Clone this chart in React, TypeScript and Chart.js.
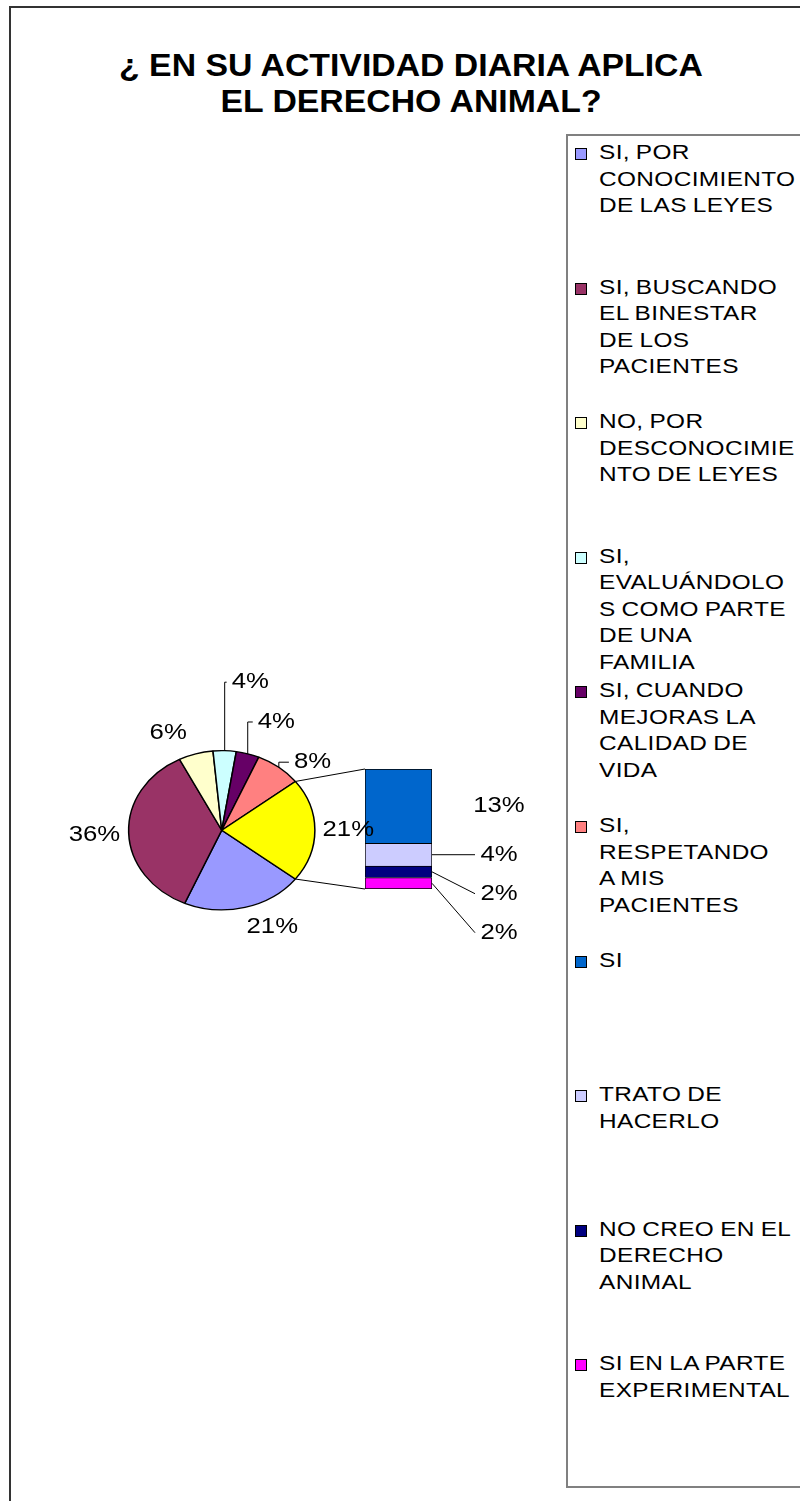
import React, { useEffect, useRef } from 'react';
import { Chart, registerables } from 'chart.js';

Chart.register(...registerables);

// ---------- DATA ----------
const TITLE_LINES = ['¿ EN SU ACTIVIDAD DIARIA APLICA', 'EL DERECHO ANIMAL?'];

const pieLabels = [
  'SI, POR CONOCIMIENTO DE LAS LEYES',
  'SI, BUSCANDO EL BINESTAR DE LOS PACIENTES',
  'NO, POR DESCONOCIMIENTO DE LEYES',
  'SI, EVALUÁNDOLOS COMO PARTE DE UNA FAMILIA',
  'SI, CUANDO MEJORAS LA CALIDAD DE VIDA',
  'SI, RESPETANDO A MIS PACIENTES',
];
const pieValues = [21, 36, 6, 4, 4, 8];
const pieColors = ['#9999FF', '#993366', '#FFFFCC', '#CCFFFF', '#660066', '#FF8080'];
const otherColor = '#FFFF00';

const barLabels = ['SI', 'TRATO DE HACERLO', 'NO CREO EN EL DERECHO ANIMAL', 'SI EN LA PARTE EXPERIMENTAL'];
const barValues = [13, 4, 2, 2];
const barColors = ['#0066CC', '#CCCCFF', '#000080', '#FF00FF'];

// legend text as wrapped in the original
const legendLines = [
  ['SI, POR', 'CONOCIMIENTO', 'DE LAS LEYES'],
  ['SI, BUSCANDO', 'EL BINESTAR', 'DE LOS', 'PACIENTES'],
  ['NO, POR', 'DESCONOCIMIE', 'NTO DE LEYES'],
  ['SI,', 'EVALUÁNDOLO', 'S COMO PARTE', 'DE UNA', 'FAMILIA'],
  ['SI, CUANDO', 'MEJORAS LA', 'CALIDAD DE', 'VIDA'],
  ['SI,', 'RESPETANDO', 'A MIS', 'PACIENTES'],
  ['SI'],
  ['TRATO DE', 'HACERLO'],
  ['NO CREO EN EL', 'DERECHO', 'ANIMAL'],
  ['SI EN LA PARTE', 'EXPERIMENTAL'],
];

// ---------- LAYOUT ----------
const FONT = '"Liberation Sans", Arial, Helvetica, sans-serif';
const SX = 1.17; // horizontal stretch of the original picture
const CW = 560;
const CH = 1000;
const PIE = { left: 141.5, top: 750, size: 160.5 };
const BAR = { left: 365, right: 432, top: 769, bottom: 889 };
// label anchors relative to pie centre, in units of the pie radius
const PIE_LABEL_OFFSETS = [
  [0.635, 1.22],
  [-1.6, 0.057],
  [-0.673, -1.22],
  [0.358, -1.86],
  [0.686, -1.36],
  [1.14, -0.855],
  [1.59, 0],
];
const PIE_LEADERS = [false, false, false, true, true, true, false];

const sum = (a: number[]) => a.reduce((s, v) => s + v, 0);

function drawText(ctx: CanvasRenderingContext2D, text: string, x: number, y: number) {
  ctx.save();
  ctx.translate(x, y);
  ctx.scale(SX, 1);
  ctx.textAlign = 'center';
  ctx.textBaseline = 'middle';
  ctx.fillText(text, 0, 0);
  ctx.restore();
}

export default function App() {
  const pieRef = useRef<HTMLCanvasElement>(null);
  const barRef = useRef<HTMLCanvasElement>(null);

  useEffect(() => {
    const otherValue = sum(barValues);
    const pieData = [...pieValues, otherValue];
    const total = sum(pieData);
    const barTotal = sum(barValues);
    const rotation = 90 + (otherValue / total) * 180;

    const barDatasets = barValues
      .map((v, i) => ({
        label: barLabels[i],
        data: [v],
        backgroundColor: barColors[i],
        borderColor: '#000',
        borderWidth: { top: 1, left: 1, right: 1, bottom: i === barValues.length - 1 ? 1 : 0 },
        borderSkipped: false,
        barPercentage: 1,
        categoryPercentage: 1,
      }))
      .reverse();

    const barChart = new Chart(barRef.current!, {
      type: 'bar',
      data: { labels: [''], datasets: barDatasets as any },
      options: {
        responsive: false,
        animation: false,
        events: [],
        layout: { padding: { left: BAR.left, right: CW - BAR.right, top: BAR.top, bottom: CH - BAR.bottom } },
        scales: {
          x: { display: false, stacked: true },
          y: { display: false, stacked: true, min: 0, max: barTotal },
        },
        plugins: { legend: { display: false }, tooltip: { enabled: false } },
      },
    });

    const stretchPlugin = {
      id: 'stretch',
      beforeDatasetsDraw(chart: any) {
        const a = chart.getDatasetMeta(0).data[0];
        const ctx = chart.ctx;
        ctx.save();
        ctx.translate(a.x, a.y);
        ctx.scale(SX, 1);
        ctx.translate(-a.x, -a.y);
      },
      afterDatasetsDraw(chart: any) {
        chart.ctx.restore();
      },
    };

    const labelPlugin = {
      id: 'labels',
      afterDraw(chart: any) {
        const ctx: CanvasRenderingContext2D = chart.ctx;
        const arcs = chart.getDatasetMeta(0).data;
        const cx = arcs[0].x;
        const cy = arcs[0].y;
        const r = arcs[0].outerRadius;
        ctx.save();
        ctx.font = `22px ${FONT}`;
        ctx.fillStyle = '#000';
        ctx.strokeStyle = '#000';
        ctx.lineWidth = 1;

        // connector lines pie -> bar
        const other = arcs[arcs.length - 1];
        const bMeta = barChart.getDatasetMeta(barDatasets.length - 1).data[0] as any;
        const bBottom = barChart.getDatasetMeta(0).data[0] as any;
        const barLeft = bMeta.x - bMeta.width / 2;
        const barRight = bMeta.x + bMeta.width / 2;
        ctx.beginPath();
        ctx.moveTo(cx + SX * r * Math.cos(other.startAngle), cy + r * Math.sin(other.startAngle));
        ctx.lineTo(barLeft, bMeta.y);
        ctx.moveTo(cx + SX * r * Math.cos(other.endAngle), cy + r * Math.sin(other.endAngle));
        ctx.lineTo(barLeft, bBottom.base);
        ctx.stroke();

        // pie labels
        arcs.forEach((arc: any, i: number) => {
          const txt = Math.round((pieData[i] / total) * 100) + '%';
          const [ox, oy] = PIE_LABEL_OFFSETS[i];
          const lx = cx + ox * r;
          const ly = cy + oy * r;
          if (PIE_LEADERS[i]) {
            const mid = (arc.startAngle + arc.endAngle) / 2;
            const ex = cx + SX * r * Math.cos(mid);
            const ey = cy + r * Math.sin(mid);
            const w = ctx.measureText(txt).width * SX;
            ctx.beginPath();
            ctx.moveTo(ex, ey);
            ctx.lineTo(ex, ly);
            ctx.lineTo(lx - w / 2 - 5, ly);
            ctx.stroke();
          }
          drawText(ctx, txt, lx, ly);
        });

        // bar labels (top to bottom)
        let prevY = -Infinity;
        barValues.forEach((v, j) => {
          const el = barChart.getDatasetMeta(barDatasets.length - 1 - j).data[0] as any;
          const segC = (el.y + el.base) / 2;
          const ly = Math.max(segC, prevY + 39);
          prevY = ly;
          const lx = barRight + 67;
          const txt = Math.round((v / total) * 100) + '%';
          if (v / barTotal < 0.25) {
            ctx.beginPath();
            ctx.moveTo(barRight, segC);
            ctx.lineTo(lx - 24, ly);
            ctx.stroke();
          }
          drawText(ctx, txt, lx, ly);
        });
        ctx.restore();
      },
    };

    const pieChart = new Chart(pieRef.current!, {
      type: 'pie',
      data: {
        labels: [...pieLabels, 'Otro'],
        datasets: [
          {
            data: pieData,
            backgroundColor: [...pieColors, otherColor],
            borderColor: '#000',
            borderWidth: 1.3,
          },
        ],
      },
      options: {
        responsive: false,
        animation: false,
        events: [],
        rotation,
        layout: {
          padding: {
            left: PIE.left,
            right: CW - PIE.left - PIE.size,
            top: PIE.top,
            bottom: CH - PIE.top - PIE.size,
          },
        },
        plugins: { legend: { display: false }, tooltip: { enabled: false } },
      },
      plugins: [stretchPlugin, labelPlugin],
    });

    return () => {
      pieChart.destroy();
      barChart.destroy();
    };
  }, []);

  const legendColors = [...pieColors, ...barColors];

  return (
    <div
      style={{
        position: 'absolute',
        left: 0,
        top: 0,
        width: 800,
        height: 1501,
        overflow: 'hidden',
        background: '#fff',
        fontFamily: FONT,
        color: '#000',
      }}
    >
      <div
        style={{
          position: 'absolute',
          left: 9,
          top: 6,
          width: 900,
          height: 1700,
          border: '2px solid #333',
          boxSizing: 'border-box',
        }}
      />
      <div
        style={{
          position: 'absolute',
          left: 0,
          top: 48,
          width: 822,
          textAlign: 'center',
          fontWeight: 'bold',
          fontSize: 31,
          lineHeight: '36px',
          transform: `scaleX(1.09)`,
          transformOrigin: '411px 0',
          whiteSpace: 'pre',
        }}
      >
        {TITLE_LINES.join('\n')}
      </div>

      <canvas ref={barRef} width={CW} height={CH} style={{ position: 'absolute', left: 0, top: 0, width: CW, height: CH }} />
      <canvas ref={pieRef} width={CW} height={CH} style={{ position: 'absolute', left: 0, top: 0, width: CW, height: CH }} />

      <div
        style={{
          position: 'absolute',
          left: 566,
          top: 134,
          width: 300,
          height: 1354,
          border: '2px solid #808080',
          boxSizing: 'border-box',
        }}
      />
      {legendLines.map((lines, i) => {
        const top = 139 + i * 134.6;
        return (
          <React.Fragment key={i}>
            <div
              style={{
                position: 'absolute',
                left: 575,
                top: top + 9,
                width: 12,
                height: 12,
                background: legendColors[i],
                border: '1px solid #000',
                boxSizing: 'border-box',
              }}
            />
            <div
              style={{
                position: 'absolute',
                left: 599,
                top,
                fontSize: 20,
                lineHeight: '26.5px',
                letterSpacing: '0.3px',
                wordSpacing: '-1px',
                whiteSpace: 'pre',
                transform: 'scaleX(1.22)',
                transformOrigin: '0 0',
              }}
            >
              {lines.join('\n')}
            </div>
          </React.Fragment>
        );
      })}
    </div>
  );
}
